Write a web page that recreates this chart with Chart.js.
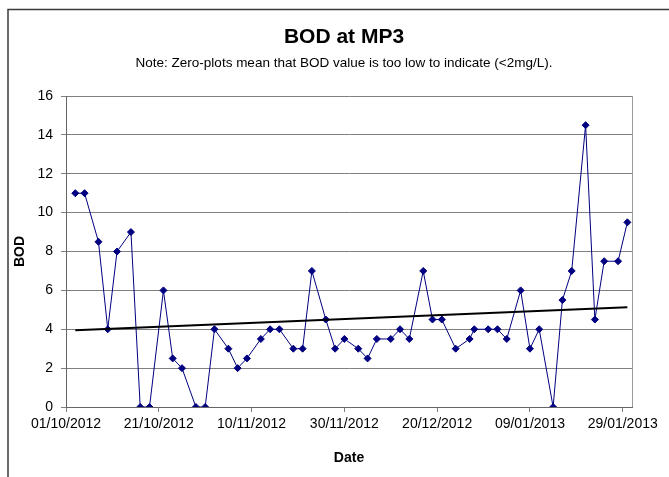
<!DOCTYPE html>
<html>
<head>
<meta charset="utf-8">
<title>BOD at MP3</title>
<script src="https://cdn.jsdelivr.net/npm/chart.js@4.4.1/dist/chart.umd.min.js"></script>
<style>
  html, body { margin: 0; padding: 0; background: #fff; }
  #wrap { width: 669px; height: 477px; }
</style>
</head>
<body>
<div id="wrap"><canvas id="bodChart"></canvas></div>
<script>
// sample dates (dd/mm/yyyy) and BOD readings
const sampleDates = [
  "03/10/2012", "05/10/2012", "08/10/2012", "10/10/2012", "12/10/2012",
  "15/10/2012", "17/10/2012", "19/10/2012", "22/10/2012", "24/10/2012",
  "26/10/2012", "29/10/2012", "31/10/2012", "02/11/2012", "05/11/2012",
  "07/11/2012", "09/11/2012", "12/11/2012", "14/11/2012", "16/11/2012",
  "19/11/2012", "21/11/2012", "23/11/2012", "26/11/2012", "28/11/2012",
  "30/11/2012", "03/12/2012", "05/12/2012", "07/12/2012", "10/12/2012",
  "12/12/2012", "14/12/2012", "17/12/2012", "19/12/2012", "21/12/2012",
  "24/12/2012", "27/12/2012", "28/12/2012", "31/12/2012", "02/01/2013",
  "04/01/2013", "07/01/2013", "09/01/2013", "11/01/2013", "14/01/2013",
  "16/01/2013", "18/01/2013", "21/01/2013", "23/01/2013", "25/01/2013",
  "28/01/2013", "30/01/2013"
];
const bodValues = [
  11, 11, 8.5, 4, 8,
  9, 0, 0, 6, 2.5,
  2, 0, 0, 4, 3,
  2, 2.5, 3.5, 4, 4,
  3, 3, 7, 4.5, 3,
  3.5, 3, 2.5, 3.5, 3.5,
  4, 3.5, 7, 4.5, 4.5,
  3, 3.5, 4, 4, 4,
  3.5, 6, 3, 4, 0,
  5.5, 7, 14.5, 4.5, 7.5,
  7.5, 9.5
];

// linear trend line, end points
const trendDates = ["03/10/2012", "30/01/2013"];
const trendValues = [3.95, 5.13];

const tickLabels = [
  "01/10/2012", "21/10/2012", "10/11/2012", "30/11/2012",
  "20/12/2012", "09/01/2013", "29/01/2013"
];
const axisStart = "01/10/2012";
const axisEnd = "31/01/2013";

function toUTC(s) {
  const [d, m, y] = s.split("/").map(Number);
  return Date.UTC(y, m - 1, d);
}
// days since the first day of the axis
function dayOf(s) {
  return (toUTC(s) - toUTC(axisStart)) / 86400000;
}

const bodPoints = sampleDates.map((d, i) => ({ x: dayOf(d), y: bodValues[i] }));
const trendPoints = trendDates.map((d, i) => ({ x: dayOf(d), y: trendValues[i] }));

const frame = {
  id: "frame",
  beforeDraw(chart) {
    const c = chart.ctx;
    c.save();
    c.fillStyle = "#fff";
    c.fillRect(0, 0, chart.width, chart.height);
    c.strokeStyle = "#3a3a3a";
    c.lineWidth = 1.5;
    c.beginPath();
    c.moveTo(8, chart.height);
    c.lineTo(8, 9.5);
    c.lineTo(chart.width, 9.5);
    c.stroke();
    c.restore();
  },
  beforeDatasetsDraw(chart) {
    const c = chart.ctx;
    const a = chart.chartArea;
    c.save();
    c.strokeStyle = "#9a9a9a";
    c.lineWidth = 1;
    c.beginPath();
    c.moveTo(Math.round(a.right) + 0.5, a.top);
    c.lineTo(Math.round(a.right) + 0.5, a.bottom);
    c.stroke();
    c.restore();
  },
};

Chart.defaults.font.family = "'Liberation Sans', Arial, sans-serif";
Chart.defaults.color = "#000";

new Chart(document.getElementById("bodChart"), {
  type: "line",
  data: {
    datasets: [
      {
        label: "Trend",
        data: trendPoints,
        borderColor: "#000",
        borderWidth: 2,
        pointRadius: 0,
        fill: false,
      },
      {
        label: "BOD",
        data: bodPoints,
        borderColor: "#000080",
        backgroundColor: "#000080",
        borderWidth: 1,
        pointStyle: "rectRot",
        pointRadius: 3.5,
        pointBorderWidth: 1,
        pointBorderColor: "#000080",
        pointBackgroundColor: "#000080",
        tension: 0,
        fill: false,
      },
    ],
  },
  options: {
    responsive: true,
    maintainAspectRatio: false,
    animation: false,
    layout: {
      padding: { left: 20, right: 1, top: 0, bottom: 0 },
    },
    scales: {
      x: {
        type: "linear",
        min: 0,
        max: dayOf(axisEnd),
        afterBuildTicks: (scale) => {
          scale.ticks = tickLabels.map((t) => ({ value: dayOf(t) }));
        },
        afterFit: (scale) => {
          scale.height = 70;
          scale.paddingLeft = 0;
          scale.paddingRight = 0;
        },
        ticks: {
          autoSkip: false,
          maxRotation: 0,
          padding: 4,
          font: { size: 14 },
          callback: (v, i) => tickLabels[i],
        },
        grid: {
          drawOnChartArea: false,
          drawTicks: true,
          tickLength: 5,
          color: "#808080",
        },
        border: { color: "#666" },
        title: {
          display: true,
          text: "Date",
          font: { size: 14, weight: "bold" },
          padding: { top: 0, bottom: 10.6 },
        },
      },
      y: {
        min: 0,
        max: 16,
        afterFit: (scale) => {
          scale.width = 46;
          scale.paddingTop = 0;
          scale.paddingBottom = 0;
        },
        ticks: {
          stepSize: 2,
          padding: 8,
          font: { size: 14 },
        },
        grid: {
          color: "#808080",
          tickLength: 5,
        },
        border: { color: "#666" },
        title: {
          display: true,
          text: "BOD",
          font: { size: 14, weight: "bold" },
          padding: { top: -8.4, bottom: 0 },
        },
      },
      // empty right-hand axis, only reserves the space right of the plot
      spacer: {
        type: "linear",
        position: "right",
        grid: { display: false },
        border: { display: false },
        ticks: { display: false },
        afterFit: (scale) => {
          scale.width = 36;
        },
      },
    },
    plugins: {
      legend: { display: false },
      tooltip: { enabled: false },
      title: {
        display: true,
        text: "BOD at MP3",
        font: { size: 21, weight: "bold" },
        padding: { top: 24.4, bottom: 0 },
      },
      subtitle: {
        display: true,
        text: "Note: Zero-plots mean that BOD value is too low to indicate (<2mg/L).",
        font: { size: 13.5 },
        padding: { top: 5.3, bottom: 24.9 },
      },
    },
  },
  plugins: [frame],
});
</script>
</body>
</html>
